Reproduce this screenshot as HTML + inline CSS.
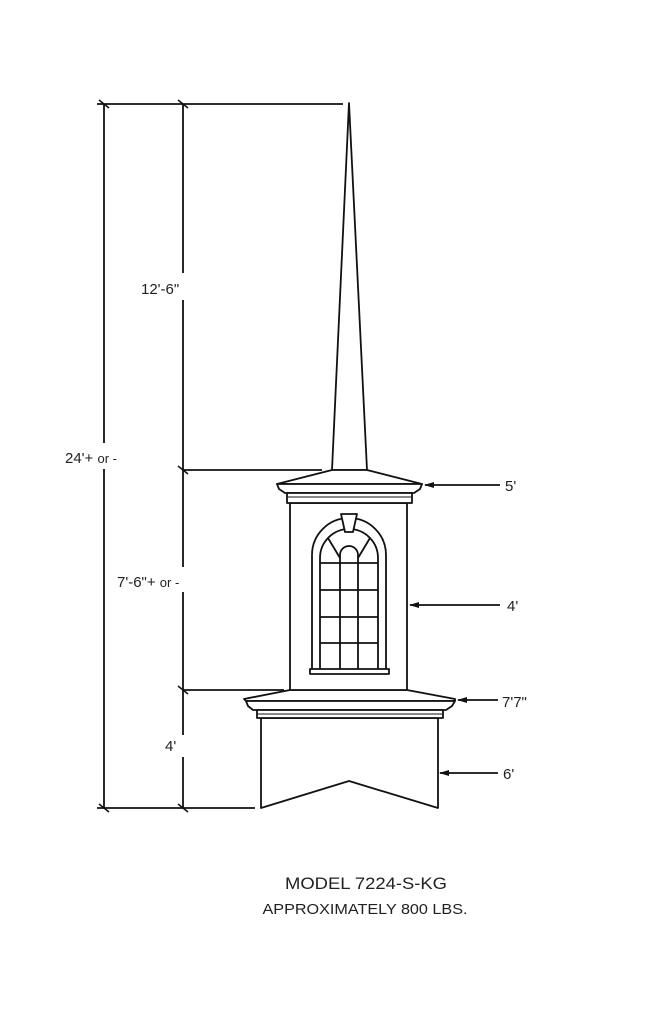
<!DOCTYPE html>
<html><head><meta charset="utf-8"><style>
html,body{margin:0;padding:0;background:#fff;}
svg{display:block;}
text{font-family:"Liberation Sans",sans-serif;fill:#222;}
</style></head><body>
<svg width="651" height="1024" viewBox="0 0 651 1024" xmlns="http://www.w3.org/2000/svg">
<g stroke="#111" fill="none" stroke-width="1.8">
<!-- dimension lines -->
<line x1="97" y1="104" x2="343" y2="104"/>
<line x1="104" y1="104" x2="104" y2="443"/>
<line x1="104" y1="469" x2="104" y2="808"/>
<line x1="183" y1="104" x2="183" y2="273"/>
<line x1="183" y1="300" x2="183" y2="567"/>
<line x1="183" y1="592" x2="183" y2="735"/>
<line x1="183" y1="757" x2="183" y2="808"/>
<line x1="183" y1="470" x2="322" y2="470"/>
<line x1="183" y1="690" x2="284" y2="690"/>
<line x1="97" y1="808" x2="255" y2="808"/>
<!-- ticks -->
<g stroke-width="1.5">
<line x1="99" y1="100" x2="109" y2="108"/><line x1="178" y1="100" x2="188" y2="108"/>
<line x1="178" y1="466" x2="188" y2="474"/><line x1="178" y1="686" x2="188" y2="694"/>
<line x1="99" y1="804" x2="109" y2="812"/><line x1="178" y1="804" x2="188" y2="812"/>
</g>
<!-- right leaders -->
<line x1="425" y1="485" x2="500" y2="485"/>
<line x1="410" y1="605" x2="500" y2="605"/>
<line x1="458" y1="700" x2="498" y2="700"/>
<line x1="440" y1="773" x2="498" y2="773"/>
</g>
<g fill="#111">
<polygon points="424,485 434,482 434,488"/>
<polygon points="409,605 419,602 419,608"/>
<polygon points="457,700 467,697 467,703"/>
<polygon points="439,773 449,770 449,776"/>
</g>
<g stroke="#111" fill="#fff" stroke-width="1.8" stroke-linejoin="round">
<!-- spire -->
<polygon points="349,103 332,470 367,470"/>
<!-- base -->
<polygon points="261,718 438,718 438,808 349,781 261,808"/>
<!-- lower roof -->
<polygon points="290,690 407,690 455,699 455,701 246,701 244,699"/>
<path d="M246,701 L455,701 L452,706 L446,710 L253,710 L248,706 Z"/>
<rect x="257" y="710" width="186" height="8"/>
<line x1="258" y1="714" x2="442" y2="714" stroke-width="1"/>
<!-- body -->
<rect x="290" y="503" width="117" height="187"/>
<!-- upper roof -->
<polygon points="332,470 367,470 422,484 277,484"/>
<path d="M277,484 L422,484 L420,489 L414,493 L285,493 L279,489 Z"/>
<rect x="287" y="493" width="125" height="10"/>
<line x1="288" y1="497" x2="411" y2="497" stroke-width="1"/>
<!-- window -->
<path d="M312,670 L312,555 A37,37 0 0 1 386,555 L386,670 Z"/>
<path d="M320,670 L320,558 A29,29 0 0 1 378,558 L378,670 Z"/>
<path d="M340,670 L340,555 A9,9 0 0 1 358,555 L358,670" fill="none"/>
<line x1="340" y1="558" x2="328" y2="538"/>
<line x1="358" y1="558" x2="370" y2="538"/>
<line x1="320" y1="563" x2="378" y2="563"/>
<line x1="320" y1="590" x2="378" y2="590"/>
<line x1="320" y1="617" x2="378" y2="617"/>
<line x1="320" y1="643" x2="378" y2="643"/>
<rect x="310" y="669" width="79" height="5"/>
<polygon points="341,514 357,514 353,532 345,532"/>
</g>
<!-- labels -->
<g font-size="15">
<rect x="135" y="274" width="95" height="25" fill="#fff"/>
<text x="141" y="294">12'-6"</text>
<rect x="60" y="444" width="70" height="24" fill="#fff"/>
<text x="65" y="463">24'+ <tspan font-size="13">or -</tspan></text>
<rect x="135" y="568" width="80" height="23" fill="#fff"/>
<text x="117" y="587">7'-6"+ <tspan font-size="13">or -</tspan></text>
<rect x="160" y="736" width="20" height="20" fill="#fff"/>
<text x="165" y="751">4'</text>
<text x="505" y="491">5'</text>
<text x="507" y="611">4'</text>
<text x="502" y="707">7'7"</text>
<text x="503" y="779">6'</text>
</g>
<text x="366" y="889" font-size="17" text-anchor="middle" textLength="162" lengthAdjust="spacingAndGlyphs">MODEL 7224-S-KG</text>
<text x="365" y="914" font-size="15" text-anchor="middle" textLength="205" lengthAdjust="spacingAndGlyphs">APPROXIMATELY 800 LBS.</text>
</svg>
</body></html>
